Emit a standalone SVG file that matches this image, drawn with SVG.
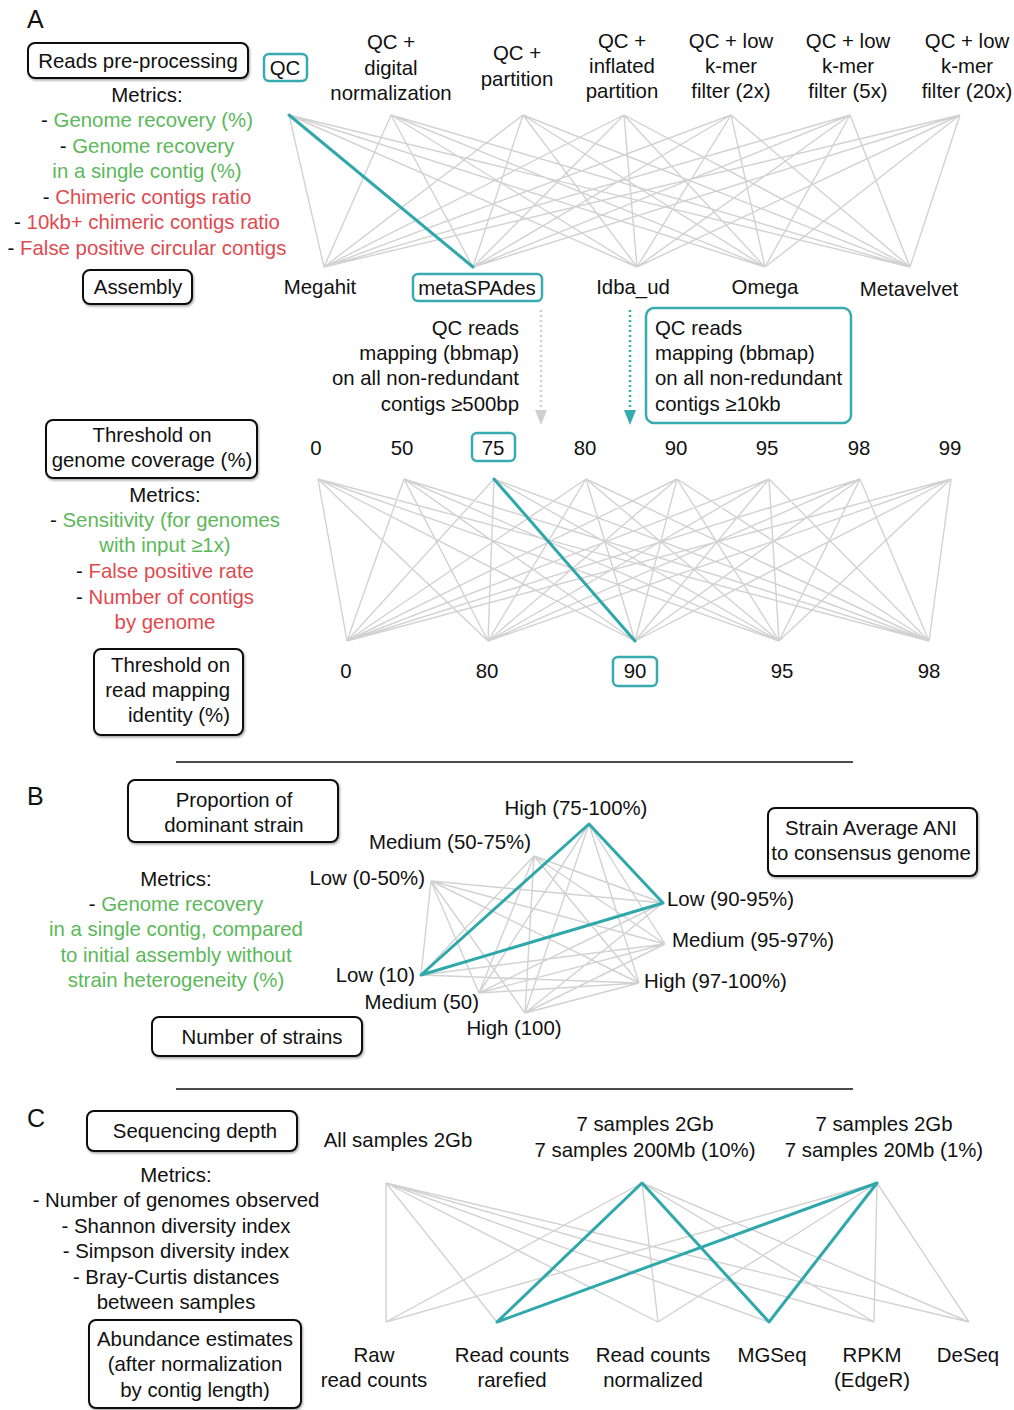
<svg xmlns="http://www.w3.org/2000/svg" width="1014" height="1410" viewBox="0 0 1014 1410">
<style>
text{font-family:"Liberation Sans",Arial,sans-serif;font-size:20.4px;fill:#111}
.m{text-anchor:middle}
.e{text-anchor:end}
.g{fill:#5cb85a}
.r{fill:#de4a4f}
.k{fill:#111}
.big{font-size:25px}
.box{fill:#fff;stroke:#111;stroke-width:2;filter:url(#sh)}
.tb{fill:none;stroke:#38abaf;stroke-width:2.5}
.ed{fill:none;stroke:#d2d2d2;stroke-width:1.4}
.hl{fill:none;stroke:#2fa8ab;stroke-width:3;stroke-linecap:round;stroke-linejoin:round}
.sep{stroke:#111;stroke-width:1.3}
</style>
<defs>
<filter id="sh" x="-10%" y="-10%" width="125%" height="130%">
<feDropShadow dx="1" dy="1.5" stdDeviation="1.2" flood-color="#000" flood-opacity="0.35"/>
</filter>
</defs>

<!-- connectors -->
<g id="connectors">
<!-- A top: preprocessing -> assembly -->
<path class="ed" d="M289 115L324 267M289 115L473 267M289 115L637 267M289 115L765 267M289 115L910 267
M391 115L324 267M391 115L473 267M391 115L637 267M391 115L765 267M391 115L910 267
M523 115L324 267M523 115L473 267M523 115L637 267M523 115L765 267M523 115L910 267
M624 115L324 267M624 115L473 267M624 115L637 267M624 115L765 267M624 115L910 267
M731 115L324 267M731 115L473 267M731 115L637 267M731 115L765 267M731 115L910 267
M850 115L324 267M850 115L473 267M850 115L637 267M850 115L765 267M850 115L910 267
M960 115L324 267M960 115L473 267M960 115L637 267M960 115L765 267M960 115L910 267"/>
<path class="hl" d="M289 115L473 267"/>
<!-- A mapping arrows -->
<line x1="541" y1="310" x2="541" y2="411" stroke="#cfcfcf" stroke-width="2.5" stroke-dasharray="2 3"/>
<polygon points="535,410 547,410 541,425" fill="#cfcfcf"/>
<line x1="630" y1="310" x2="630" y2="411" stroke="#38abaf" stroke-width="2.5" stroke-dasharray="2 3"/>
<polygon points="624,410 636,410 630,425" fill="#38abaf"/>
<!-- A lower: coverage -> identity -->
<path class="ed" d="M318 479L347 641M318 479L488 641M318 479L635 641M318 479L779 641M318 479L929 641
M404 479L347 641M404 479L488 641M404 479L635 641M404 479L779 641M404 479L929 641
M494 479L347 641M494 479L488 641M494 479L635 641M494 479L779 641M494 479L929 641
M586 479L347 641M586 479L488 641M586 479L635 641M586 479L779 641M586 479L929 641
M677 479L347 641M677 479L488 641M677 479L635 641M677 479L779 641M677 479L929 641
M769 479L347 641M769 479L488 641M769 479L635 641M769 479L779 641M769 479L929 641
M860 479L347 641M860 479L488 641M860 479L635 641M860 479L779 641M860 479L929 641
M951 479L347 641M951 479L488 641M951 479L635 641M951 479L779 641M951 479L929 641"/>
<path class="hl" d="M494 479L635 641"/>
<!-- B: tripartite -->
<path class="ed" d="M431 881L663 903M431 881L665 944M431 881L639 983M431 881L421 975M431 881L479 993M431 881L525 1013
M534 856L663 903M534 856L665 944M534 856L639 983M534 856L421 975M534 856L479 993M534 856L525 1013
M589 824L663 903M589 824L665 944M589 824L639 983M589 824L421 975M589 824L479 993M589 824L525 1013
M421 975L663 903M421 975L665 944M421 975L639 983
M479 993L663 903M479 993L665 944M479 993L639 983
M525 1013L663 903M525 1013L665 944M525 1013L639 983"/>
<path class="hl" d="M421 975L589 824L663 903Z"/>
<!-- C: depth -> normalization -->
<path class="ed" d="M386 1183L386 1322M386 1183L497 1322M386 1183L658 1322M386 1183L769 1322M386 1183L874 1322M386 1183L969 1322
M642 1183L386 1322M642 1183L497 1322M642 1183L658 1322M642 1183L769 1322M642 1183L874 1322M642 1183L969 1322
M877 1183L386 1322M877 1183L497 1322M877 1183L658 1322M877 1183L769 1322M877 1183L874 1322M877 1183L969 1322"/>
<path class="hl" d="M497 1322L642 1183L769 1322L877 1183L497 1322"/>
<!-- separators -->
<line class="sep" x1="176" y1="762" x2="853" y2="762"/>
<line class="sep" x1="176" y1="1089" x2="853" y2="1089"/>
</g>

<!-- Panel A -->
<text x="27" y="28" class="big">A</text>
<g id="reads-preprocessing">
<rect class="box" x="28" y="43" width="220" height="35" rx="7"/>
<text x="138" y="68" class="m">Reads pre-processing</text>
</g>
<g id="metrics-a1">
<text x="147" y="102" class="m">Metrics:</text>
<text x="147" y="127" class="m">- <tspan class="g">Genome recovery (%)</tspan></text>
<text x="147" y="153" class="m">- <tspan class="g">Genome recovery</tspan></text>
<text x="147" y="178" class="m g">in a single contig (%)</text>
<text x="147" y="204" class="m">- <tspan class="r">Chimeric contigs ratio</tspan></text>
<text x="147" y="229" class="m">- <tspan class="r">10kb+ chimeric contigs ratio</tspan></text>
<text x="147" y="255" class="m">- <tspan class="r">False positive circular contigs</tspan></text>
</g>
<g id="assembly">
<rect class="box" x="83" y="270" width="109" height="34" rx="7"/>
<text x="138" y="294" class="m">Assembly</text>
</g>

<g id="pp-qc">
<rect class="tb" x="264" y="54" width="43" height="27" rx="5"/>
<text x="285" y="75" class="m">QC</text>
</g>
<g id="pp-dn"><text x="391" y="49" class="m">QC +</text><text x="391" y="75" class="m">digital</text><text x="391" y="100" class="m">normalization</text></g>
<g id="pp-part"><text x="517" y="60" class="m">QC +</text><text x="517" y="86" class="m">partition</text></g>
<g id="pp-infl"><text x="622" y="48" class="m">QC +</text><text x="622" y="73" class="m">inflated</text><text x="622" y="98" class="m">partition</text></g>
<g id="pp-k2"><text x="731" y="48" class="m">QC + low</text><text x="731" y="73" class="m">k-mer</text><text x="731" y="98" class="m">filter (2x)</text></g>
<g id="pp-k5"><text x="848" y="48" class="m">QC + low</text><text x="848" y="73" class="m">k-mer</text><text x="848" y="98" class="m">filter (5x)</text></g>
<g id="pp-k20"><text x="967" y="48" class="m">QC + low</text><text x="967" y="73" class="m">k-mer</text><text x="967" y="98" class="m">filter (20x)</text></g>

<g id="as-megahit"><text x="320" y="294" class="m">Megahit</text></g>
<g id="as-metaspades">
<rect class="tb" x="413" y="274" width="129" height="27" rx="5"/>
<text x="477" y="295" class="m">metaSPAdes</text>
</g>
<g id="as-idba"><text x="633" y="294" class="m">Idba_ud</text></g>
<g id="as-omega"><text x="765" y="294" class="m">Omega</text></g>
<g id="as-metavelvet"><text x="909" y="296" class="m">Metavelvet</text></g>

<g id="map-500bp">
<text x="519" y="335" class="e">QC reads</text>
<text x="519" y="360" class="e">mapping (bbmap)</text>
<text x="519" y="385" class="e">on all non-redundant</text>
<text x="519" y="411" class="e">contigs ≥500bp</text>
</g>
<g id="map-10kb">
<rect class="tb" x="646" y="308" width="205" height="115" rx="8"/>
<text x="655" y="335">QC reads</text>
<text x="655" y="360">mapping (bbmap)</text>
<text x="655" y="385">on all non-redundant</text>
<text x="655" y="411">contigs ≥10kb</text>
</g>

<g id="threshold-coverage">
<rect class="box" x="46" y="420" width="211" height="58" rx="7"/>
<text x="152" y="442" class="m">Threshold on</text>
<text x="152" y="467" class="m">genome coverage (%)</text>
</g>
<g id="metrics-a2">
<text x="165" y="502" class="m">Metrics:</text>
<text x="165" y="527" class="m">- <tspan class="g">Sensitivity (for genomes</tspan></text>
<text x="165" y="552" class="m g">with input ≥1x)</text>
<text x="165" y="578" class="m">- <tspan class="r">False positive rate</tspan></text>
<text x="165" y="604" class="m">- <tspan class="r">Number of contigs</tspan></text>
<text x="165" y="629" class="m r">by genome</text>
</g>
<g id="threshold-identity">
<rect class="box" x="94" y="649" width="149" height="86" rx="7"/>
<text x="230" y="672" class="e">Threshold on</text>
<text x="230" y="697" class="e">read mapping</text>
<text x="230" y="722" class="e">identity (%)</text>
</g>

<g id="cov-0"><text x="316" y="455" class="m">0</text></g>
<g id="cov-50"><text x="402" y="455" class="m">50</text></g>
<g id="cov-75"><rect class="tb" x="472" y="433" width="43" height="28" rx="5"/><text x="493" y="455" class="m">75</text></g>
<g id="cov-80"><text x="585" y="455" class="m">80</text></g>
<g id="cov-90"><text x="676" y="455" class="m">90</text></g>
<g id="cov-95"><text x="767" y="455" class="m">95</text></g>
<g id="cov-98"><text x="859" y="455" class="m">98</text></g>
<g id="cov-99"><text x="950" y="455" class="m">99</text></g>

<g id="id-0"><text x="346" y="678" class="m">0</text></g>
<g id="id-80"><text x="487" y="678" class="m">80</text></g>
<g id="id-90"><rect class="tb" x="613" y="657" width="44" height="29" rx="5"/><text x="635" y="678" class="m">90</text></g>
<g id="id-95"><text x="782" y="678" class="m">95</text></g>
<g id="id-98"><text x="929" y="678" class="m">98</text></g>

<!-- Panel B -->
<text x="27" y="805" class="big">B</text>
<g id="proportion">
<rect class="box" x="128" y="780" width="210" height="62" rx="7"/>
<text x="234" y="807" class="m">Proportion of</text>
<text x="234" y="832" class="m">dominant strain</text>
</g>
<g id="metrics-b">
<text x="176" y="886" class="m">Metrics:</text>
<text x="176" y="911" class="m">- <tspan class="g">Genome recovery</tspan></text>
<text x="176" y="936" class="m g">in a single contig, compared</text>
<text x="176" y="962" class="m g">to initial assembly without</text>
<text x="176" y="987" class="m g">strain heterogeneity (%)</text>
</g>
<g id="number-strains">
<rect class="box" x="152" y="1017" width="210" height="39" rx="7"/>
<text x="262" y="1044" class="m">Number of strains</text>
</g>
<g id="ani">
<rect class="box" x="768" y="808" width="209" height="68" rx="7"/>
<text x="871" y="835" class="m">Strain Average ANI</text>
<text x="871" y="860" class="m">to consensus genome</text>
</g>
<g id="p-high"><text x="576" y="815" class="m">High (75-100%)</text></g>
<g id="p-med"><text x="531" y="849" class="e">Medium (50-75%)</text></g>
<g id="p-low"><text x="425" y="885" class="e">Low (0-50%)</text></g>
<g id="a-low"><text x="667" y="906">Low (90-95%)</text></g>
<g id="a-med"><text x="672" y="947">Medium (95-97%)</text></g>
<g id="a-high"><text x="644" y="988">High (97-100%)</text></g>
<g id="n-low"><text x="415" y="982" class="e">Low (10)</text></g>
<g id="n-med"><text x="479" y="1009" class="e">Medium (50)</text></g>
<g id="n-high"><text x="514" y="1035" class="m">High (100)</text></g>

<!-- Panel C -->
<text x="27" y="1127" class="big">C</text>
<g id="seq-depth">
<rect class="box" x="87" y="1111" width="210" height="40" rx="7"/>
<text x="195" y="1138" class="m">Sequencing depth</text>
</g>
<g id="metrics-c">
<text x="176" y="1182" class="m">Metrics:</text>
<text x="176" y="1207" class="m">- Number of genomes observed</text>
<text x="176" y="1233" class="m">- Shannon diversity index</text>
<text x="176" y="1258" class="m">- Simpson diversity index</text>
<text x="176" y="1284" class="m">- Bray-Curtis distances</text>
<text x="176" y="1309" class="m">between samples</text>
</g>
<g id="abundance">
<rect class="box" x="89" y="1320" width="212" height="88" rx="7"/>
<text x="195" y="1346" class="m">Abundance estimates</text>
<text x="195" y="1371" class="m">(after normalization</text>
<text x="195" y="1397" class="m">by contig length)</text>
</g>
<g id="d-all"><text x="398" y="1147" class="m">All samples 2Gb</text></g>
<g id="d-10"><text x="645" y="1131" class="m">7 samples 2Gb</text><text x="645" y="1157" class="m">7 samples 200Mb (10%)</text></g>
<g id="d-1"><text x="884" y="1131" class="m">7 samples 2Gb</text><text x="884" y="1157" class="m">7 samples 20Mb (1%)</text></g>
<g id="n-raw"><text x="374" y="1362" class="m">Raw</text><text x="374" y="1387" class="m">read counts</text></g>
<g id="n-rare"><text x="512" y="1362" class="m">Read counts</text><text x="512" y="1387" class="m">rarefied</text></g>
<g id="n-norm"><text x="653" y="1362" class="m">Read counts</text><text x="653" y="1387" class="m">normalized</text></g>
<g id="n-mgseq"><text x="772" y="1362" class="m">MGSeq</text></g>
<g id="n-rpkm"><text x="872" y="1362" class="m">RPKM</text><text x="872" y="1387" class="m">(EdgeR)</text></g>
<g id="n-deseq"><text x="968" y="1362" class="m">DeSeq</text></g>
</svg>
